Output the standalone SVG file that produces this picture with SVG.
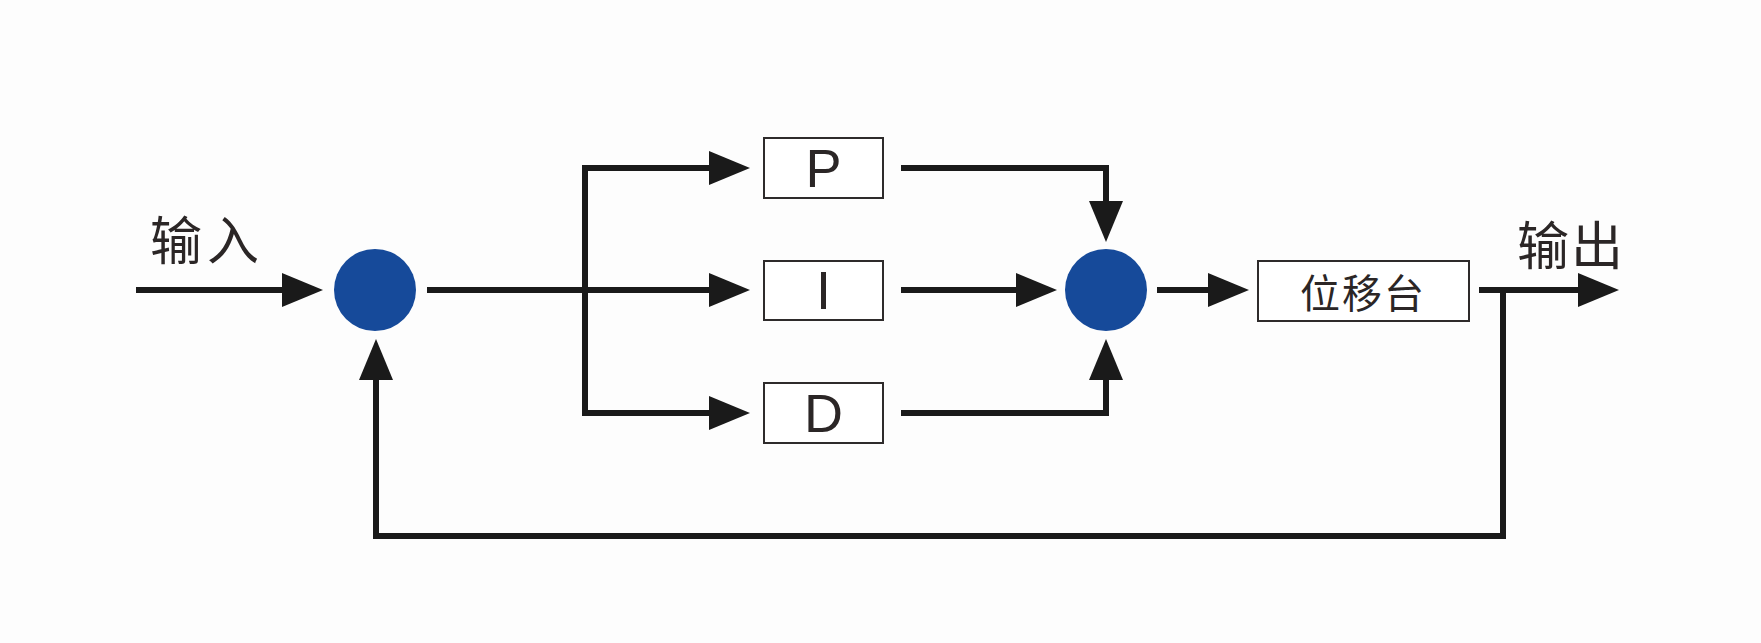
<svg xmlns="http://www.w3.org/2000/svg" width="1761" height="643" viewBox="0 0 1761 643">
<defs>
<style>
.ln{fill:none;stroke:#1a1a1a;stroke-width:6;stroke-linejoin:miter;stroke-linecap:square}
.bx{fill:#ffffff;stroke:#2e2b2b;stroke-width:2}
.sum{fill:#164a9a}
.lt{font-family:"Liberation Sans",Arial,sans-serif;font-size:54px;fill:#2b2626;text-anchor:middle;dominant-baseline:central}
.cj{font-family:"Noto Sans CJK SC",sans-serif;font-weight:400;fill:#2b2626;dominant-baseline:central}
</style>
<marker id="ah" markerUnits="userSpaceOnUse" markerWidth="41" markerHeight="34" refX="0" refY="17" orient="auto" viewBox="0 0 41 34">
<path d="M0,0 L41,17 L0,34 Z" fill="#1a1a1a"/>
</marker>
</defs>
<rect width="1761" height="643" fill="#fdfdfd"/>
<g id="connectors">
<path class="ln" d="M139,290 H282" marker-end="url(#ah)"/>
<path class="ln" d="M430,290 H709" marker-end="url(#ah)"/>
<path class="ln" d="M585,290 V168 H709" marker-end="url(#ah)"/>
<path class="ln" d="M585,290 V413 H709" marker-end="url(#ah)"/>
<path class="ln" d="M904,168 H1106 V201" marker-end="url(#ah)"/>
<path class="ln" d="M904,290 H1016" marker-end="url(#ah)"/>
<path class="ln" d="M904,413 H1106 V380" marker-end="url(#ah)"/>
<path class="ln" d="M1160,290 H1208" marker-end="url(#ah)"/>
<path class="ln" d="M1482,290 H1578" marker-end="url(#ah)"/>
<path class="ln" d="M1503,290 V536 H376 V380" marker-end="url(#ah)"/>
</g>
<g id="label-input"><text class="cj" x="150" y="237" font-size="52" letter-spacing="5">输入</text></g>
<g id="sum1"><circle class="sum" cx="375" cy="290" r="41"/></g>
<g id="node-P"><rect class="bx" x="764" y="138" width="119" height="60"/><text class="lt" x="823.5" y="168">P</text></g>
<g id="node-I"><rect class="bx" x="764" y="261" width="119" height="59"/><text class="lt" x="823.5" y="290">I</text></g>
<g id="node-D"><rect class="bx" x="764" y="383" width="119" height="60"/><text class="lt" x="823.5" y="413">D</text></g>
<g id="sum2"><circle class="sum" cx="1106" cy="290" r="41"/></g>
<g id="node-stage"><rect class="bx" x="1258" y="261" width="211" height="60"/><text class="cj" x="1300" y="291" font-size="40" letter-spacing="2">位移台</text></g>
<g id="label-output"><text class="cj" x="1517" y="242" font-size="52" letter-spacing="2">输出</text></g>
</svg>
